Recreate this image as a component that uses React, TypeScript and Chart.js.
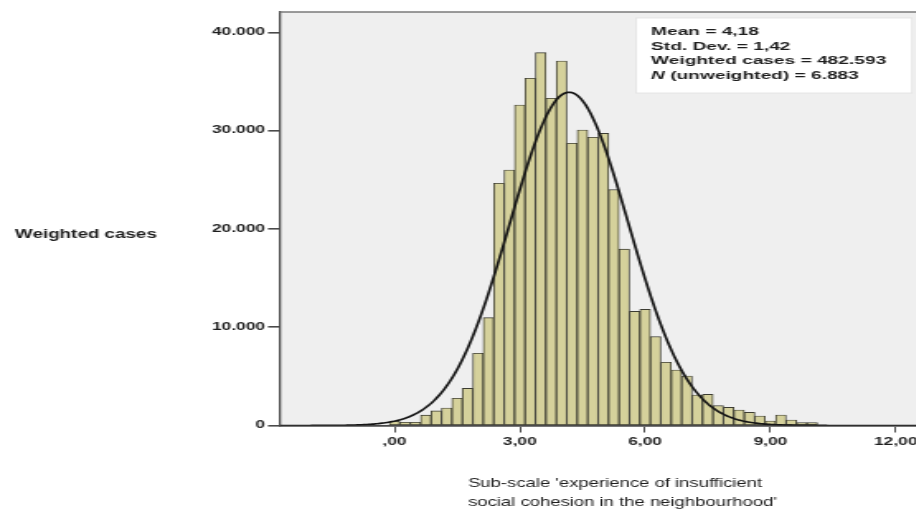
import React, { useEffect, useRef } from "react";
import { Chart, registerables } from "chart.js";

Chart.register(...registerables);

// Histogram bins: midpoints start at 0 and step by the bin width
const BIN_WIDTH = 0.25;
const BIN_COUNTS = [
  440, 330, 330, 1060, 1490, 1780, 2770, 3780, 7350, 10970,
  24640, 25990, 32600, 35320, 37930, 33290, 37080, 28710, 30060, 29320,
  29720, 24000, 17940, 11610, 11820, 9040, 6430, 5650, 5040, 3100,
  3170, 2020, 1850, 1580, 1340, 970, 460, 1070, 560, 290,
  290,
];

// Summary statistics shown in the box and used for the normal curve
const MEAN = 4.18;
const STD_DEV = 1.42;
const WEIGHTED_CASES = 482593;
const STATS_LINES = [
  "Mean = 4,18",
  "Std. Dev. = 1,42",
  "Weighted cases = 482.593",
];
const STATS_ITALIC = "N";
const STATS_LAST = " (unweighted) = 6.883";

const X_TICKS = [0, 3, 6, 9, 12];
const X_TICK_LABELS = [",00", "3,00", "6,00", "9,00", "12,00"];
const Y_TICKS = [0, 10000, 20000, 30000, 40000];
const Y_TICK_LABELS = ["0", "10.000", "20.000", "30.000", "40.000"];

const Y_TITLE = "Weighted cases";
const X_TITLE = [
  "Sub-scale 'experience of insufficient",
  "social cohesion in the neighbourhood'",
];

// Layout: the drawing is rendered narrow and stretched horizontally
const S = 1.65;
const H = 510;
const CW = 590;
const PLOT_LEFT = 280 / S;
const PLOT_RIGHT = 950 / S;
const PLOT_TOP = 12;
const PLOT_BOTTOM = 425.5;
const X_MIN = (280 - 394.5) / 41.77;
const X_MAX = (950 - 394.5) / 41.77;
const Y_MAX = (413.5 / 98.3) * 10000;

const FONT = "'Liberation Sans', Arial, sans-serif";
const TEXT = "#1e1e1e";
const AXIS = "#4a4a4a";

function normalCurve() {
  const pts: { x: number; y: number }[] = [];
  const k = (WEIGHTED_CASES * BIN_WIDTH) / (STD_DEV * Math.sqrt(2 * Math.PI));
  for (let x = X_MIN; x <= X_MAX + 0.001; x += 0.04) {
    const z = (x - MEAN) / STD_DEV;
    pts.push({ x, y: k * Math.exp(-0.5 * z * z) });
  }
  return pts;
}

// draws text narrowed horizontally by factor sx, anchored at its left edge
function narrowText(ctx: CanvasRenderingContext2D, text: string, x: number, y: number, sx: number) {
  ctx.save();
  ctx.translate(x, y);
  ctx.scale(sx, 1);
  ctx.fillText(text, 0, 0);
  ctx.restore();
}

const decor = {
  id: "decor",
  beforeDraw(chart: any) {
    const { ctx, chartArea: a } = chart;
    ctx.save();
    ctx.fillStyle = "#ffffff";
    ctx.fillRect(0, 0, chart.width, chart.height);
    ctx.fillStyle = "#efefef";
    ctx.fillRect(a.left, a.top, a.right - a.left, a.bottom - a.top);
    ctx.restore();
  },
  afterDraw(chart: any) {
    const { ctx, chartArea: a } = chart;
    ctx.save();
    // top frame line
    ctx.strokeStyle = "#7a7a7a";
    ctx.lineWidth = 1.4;
    ctx.beginPath();
    ctx.moveTo(a.left, a.top);
    ctx.lineTo(a.right, a.top);
    ctx.stroke();

    // statistics box
    const bx = 636 / S, by = 18, bw = (912 - 636) / S, bh = 75;
    ctx.fillStyle = "#ffffff";
    ctx.fillRect(bx, by, bw, bh);
    ctx.strokeStyle = "#e2e2e2";
    ctx.lineWidth = 0.8;
    ctx.strokeRect(bx, by, bw, bh);

    ctx.fillStyle = TEXT;
    ctx.textBaseline = "middle";
    ctx.textAlign = "left";
    const tx = 651 / S;
    const ys = [31.5, 46.3, 61, 75.8];
    ctx.font = `bold 11.6px ${FONT}`;
    STATS_LINES.forEach((t, i) => ctx.fillText(t, tx, ys[i]));
    ctx.font = `italic bold 11.6px ${FONT}`;
    ctx.fillText(STATS_ITALIC, tx, ys[3]);
    const w = ctx.measureText(STATS_ITALIC).width;
    ctx.font = `bold 11.6px ${FONT}`;
    ctx.fillText(STATS_LAST, tx + w, ys[3]);

    // axis titles
    ctx.font = `bold 12px ${FONT}`;
    narrowText(ctx, Y_TITLE, 15 / S, 235, 0.95);
    ctx.font = `13.5px ${FONT}`;
    narrowText(ctx, X_TITLE[0], 468 / S, 483.5, 0.83);
    narrowText(ctx, X_TITLE[1], 468 / S, 502.5, 0.83);
    ctx.restore();
  },
};

export default function App() {
  const ref = useRef<HTMLCanvasElement | null>(null);

  useEffect(() => {
    if (!ref.current) return;
    const bars = BIN_COUNTS.map((v, i) => ({ x: i * BIN_WIDTH, y: v }));
    const chart = new Chart(ref.current, {
      type: "bar",
      data: {
        datasets: [
          {
            type: "line",
            data: normalCurve(),
            borderColor: "#151515",
            borderWidth: 1.7,
            pointRadius: 0,
            tension: 0,
            order: 0,
          } as any,
          {
            type: "bar",
            data: bars,
            backgroundColor: "#d5d19b",
            borderColor: "#3c3c32",
            borderWidth: 0.9,
            borderSkipped: false,
            barPercentage: 1,
            categoryPercentage: 1,
            order: 1,
          } as any,
        ],
      },
      options: {
        responsive: false,
        maintainAspectRatio: false,
        animation: false,
        devicePixelRatio: 1,
        layout: { padding: { top: PLOT_TOP, left: 0, right: CW - PLOT_RIGHT, bottom: 0 } },
        plugins: { legend: { display: false }, tooltip: { enabled: false } },
        scales: {
          x: {
            type: "linear",
            min: X_MIN,
            max: X_MAX,
            offset: false,
            afterFit: (s: any) => { s.height = H - PLOT_BOTTOM; },
            afterBuildTicks: (s: any) => { s.ticks = X_TICKS.map((v) => ({ value: v })); },
            border: { display: true, color: AXIS, width: 1.8 },
            grid: { drawOnChartArea: false, drawTicks: true, tickLength: 7, color: AXIS, lineWidth: 1, offset: false },
            ticks: {
              autoSkip: false,
              maxRotation: 0,
              padding: 3,
              color: TEXT,
              font: { family: FONT, size: 10.5, weight: "bold" },
              callback: (v: any) => X_TICK_LABELS[X_TICKS.indexOf(Number(v))] ?? "",
            },
          },
          y: {
            type: "linear",
            min: 0,
            max: Y_MAX,
            afterFit: (s: any) => { s.width = PLOT_LEFT; },
            afterBuildTicks: (s: any) => { s.ticks = Y_TICKS.map((v) => ({ value: v })); },
            border: { display: true, color: AXIS, width: 1.3 },
            grid: { drawOnChartArea: false, drawTicks: true, tickLength: 7.3, color: AXIS, lineWidth: 1.6 },
            ticks: {
              padding: 1.8,
              color: TEXT,
              font: { family: FONT, size: 10.5, weight: "bold" },
              callback: (v: any) => Y_TICK_LABELS[Y_TICKS.indexOf(Number(v))] ?? "",
            },
          },
        },
      },
      plugins: [decor],
    });
    return () => chart.destroy();
  }, []);

  return (
    <div style={{ position: "fixed", left: 0, top: 0, width: 916, height: H, overflow: "hidden", background: "#fff" }}>
      <div style={{ width: CW, height: H, transform: `scaleX(${S})`, transformOrigin: "0 0" }}>
        <canvas ref={ref} width={CW} height={H} style={{ display: "block", width: CW, height: H }} />
      </div>
    </div>
  );
}
